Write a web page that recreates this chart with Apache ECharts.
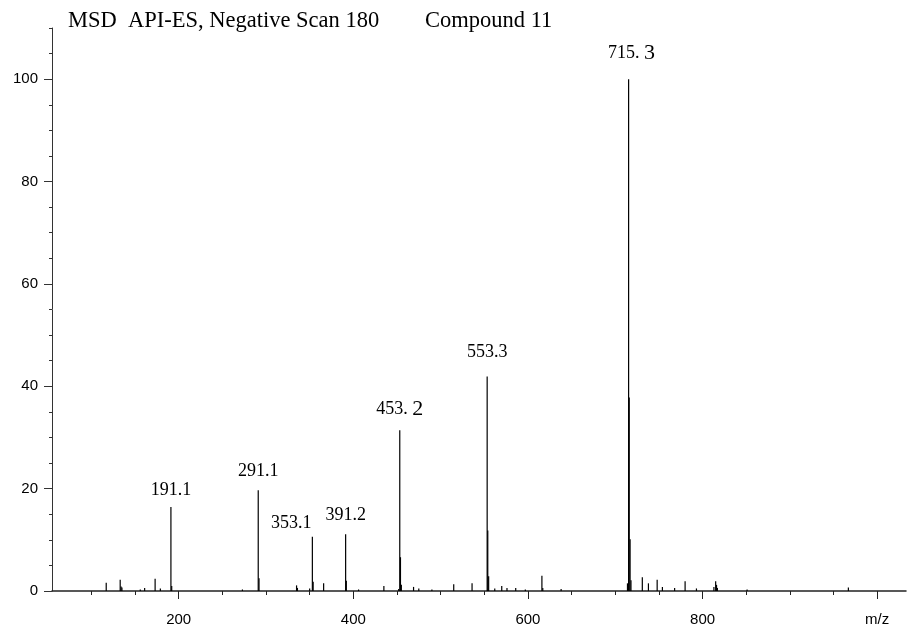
<!DOCTYPE html>
<html>
<head>
<meta charset="utf-8">
<title>MSD API-ES, Negative Scan 180</title>
<script src="https://cdn.jsdelivr.net/npm/echarts@6/dist/echarts.min.js"></script>
<style>
  html, body { margin: 0; padding: 0; background: #fff; }
  #chart { width: 908px; height: 627px; }
</style>
</head>
<body>
<div id="chart"></div>
<script>
// labelled peaks (m/z, relative abundance %)
const peakMz = [191.1, 291.1, 353.1, 391.2, 453.2, 553.3, 715.3]
const peakIntensity = [16.4, 19.7, 10.6, 11.1, 31.4, 41.9, 100]
const peakLabels = ['191.1', '291.1', '353.1', '391.2', '453. 2', '553.3', '715. 3']

// unlabelled ions and isotope shoulders
const minorMz = [
  117, 133, 134, 135, 156, 161, 173, 179, 192,
  273, 292, 335, 336, 350, 354, 366, 392, 406,
  435, 452, 454, 455, 469, 475, 490, 515, 536,
  554, 555, 562, 570, 576, 586, 597, 616, 617, 638,
  714, 716, 717, 718, 731, 738, 748, 754, 768, 780,
  793, 813, 815, 816, 817, 851, 967
]
const minorIntensity = [
  1.6, 2.2, 0.9, 0.7, 0.3, 0.6, 2.4, 0.5, 1.0,
  0.3, 2.5, 1.1, 0.6, 0.5, 1.8, 1.5, 2.0, 0.3,
  1.0, 0.4, 6.6, 1.2, 0.8, 0.5, 0.3, 1.3, 1.5,
  11.8, 2.9, 0.5, 1.0, 0.6, 0.6, 0.3, 3.0, 0.6, 0.4,
  1.5, 37.8, 10.1, 2.1, 2.7, 1.5, 2.2, 0.8, 0.6, 1.9,
  0.5, 0.8, 1.9, 1.2, 0.6, 0.3, 0.7
]

// axis ticks
const xMinorTicks = [100, 150, 200, 250, 300, 350, 400, 450, 500, 550, 600, 650, 700, 750, 800, 850, 900, 950, 1000]
const xMajorTicks = [200, 400, 600, 800, 1000]
const yMajorTicks = [0, 20, 40, 60, 80, 100]

const chart = echarts.init(document.getElementById('chart'))

const serif = 'Liberation Serif'
const sans = 'Liberation Sans'

// little tweaks for label placement
const labelShift = { '353.1': [-21, 6], '715. 3': [3, -5], '191.1': [0, 2], '553.3': [0, -5] }

const labelledData = peakMz.map((mz, i) => {
  const txt = peakLabels[i]
  const parts = txt.split(' ')
  const formatted = parts.length > 1 ? `{a|${parts[0]} }{b|${parts[1]}}` : `{a|${txt}}`
  return {
    value: [mz, peakIntensity[i]],
    label: {
      show: true,
      position: 'top',
      distance: 10,
      offset: labelShift[txt] || [0, 0],
      formatter: formatted,
      rich: {
        a: { fontFamily: serif, fontSize: 18, color: '#000' },
        b: { fontFamily: serif, fontSize: 22, color: '#000' }
      }
    }
  }
})

const minorData = minorMz.map((mz, i) => [mz, minorIntensity[i]])

const titleStyle = { fontFamily: serif, fontSize: 22.5, fontWeight: 'normal', color: '#000' }

const option = {
  animation: false,
  backgroundColor: '#fff',
  title: [
    { text: 'MSD  API-ES, Negative Scan 180', left: 68, top: 10, padding: 0, textStyle: titleStyle },
    { text: 'Compound 11', left: 425, top: 10, padding: 0, textStyle: titleStyle }
  ],
  grid: { left: 52, right: 2, top: 28, bottom: 35.5, containLabel: false },
  xAxis: [
    {
      type: 'value',
      min: 54.9,
      max: 1033,
      axisLine: { lineStyle: { color: '#222', width: 1.5 } },
      axisTick: { show: true, customValues: xMinorTicks, length: 4, lineStyle: { color: '#222' } },
      axisLabel: {
        customValues: xMajorTicks,
        margin: 21,
        fontFamily: sans, fontSize: 15, color: '#000',
        formatter: (v) => (v === 1000 ? 'm/z' : String(v))
      },
      splitLine: { show: false }
    },
    {
      type: 'value',
      position: 'bottom',
      min: 54.9,
      max: 1033,
      axisLine: { show: false },
      axisTick: { show: true, customValues: xMajorTicks, length: 8, lineStyle: { color: '#222' } },
      axisLabel: { show: false },
      splitLine: { show: false }
    }
  ],
  yAxis: [
    {
      type: 'value',
      min: 0,
      max: 110,
      interval: 5,
      axisLine: { show: true, lineStyle: { color: '#333' } },
      axisTick: { show: true, length: 3, lineStyle: { color: '#333' } },
      axisLabel: {
        customValues: yMajorTicks,
        margin: 14,
        fontFamily: sans, fontSize: 15, color: '#000'
      },
      splitLine: { show: false }
    },
    {
      type: 'value',
      position: 'left',
      min: 0,
      max: 110,
      axisLine: { show: false },
      axisTick: { show: true, customValues: yMajorTicks, length: 8, lineStyle: { color: '#333' } },
      axisLabel: { show: false },
      splitLine: { show: false }
    }
  ],
  series: [
    {
      name: 'spectrum',
      type: 'bar',
      xAxisIndex: 0,
      yAxisIndex: 0,
      barWidth: 1.2,
      itemStyle: { color: '#000' },
      data: labelledData.concat(minorData)
    }
  ]
}

chart.setOption(option)
</script>
</body>
</html>
